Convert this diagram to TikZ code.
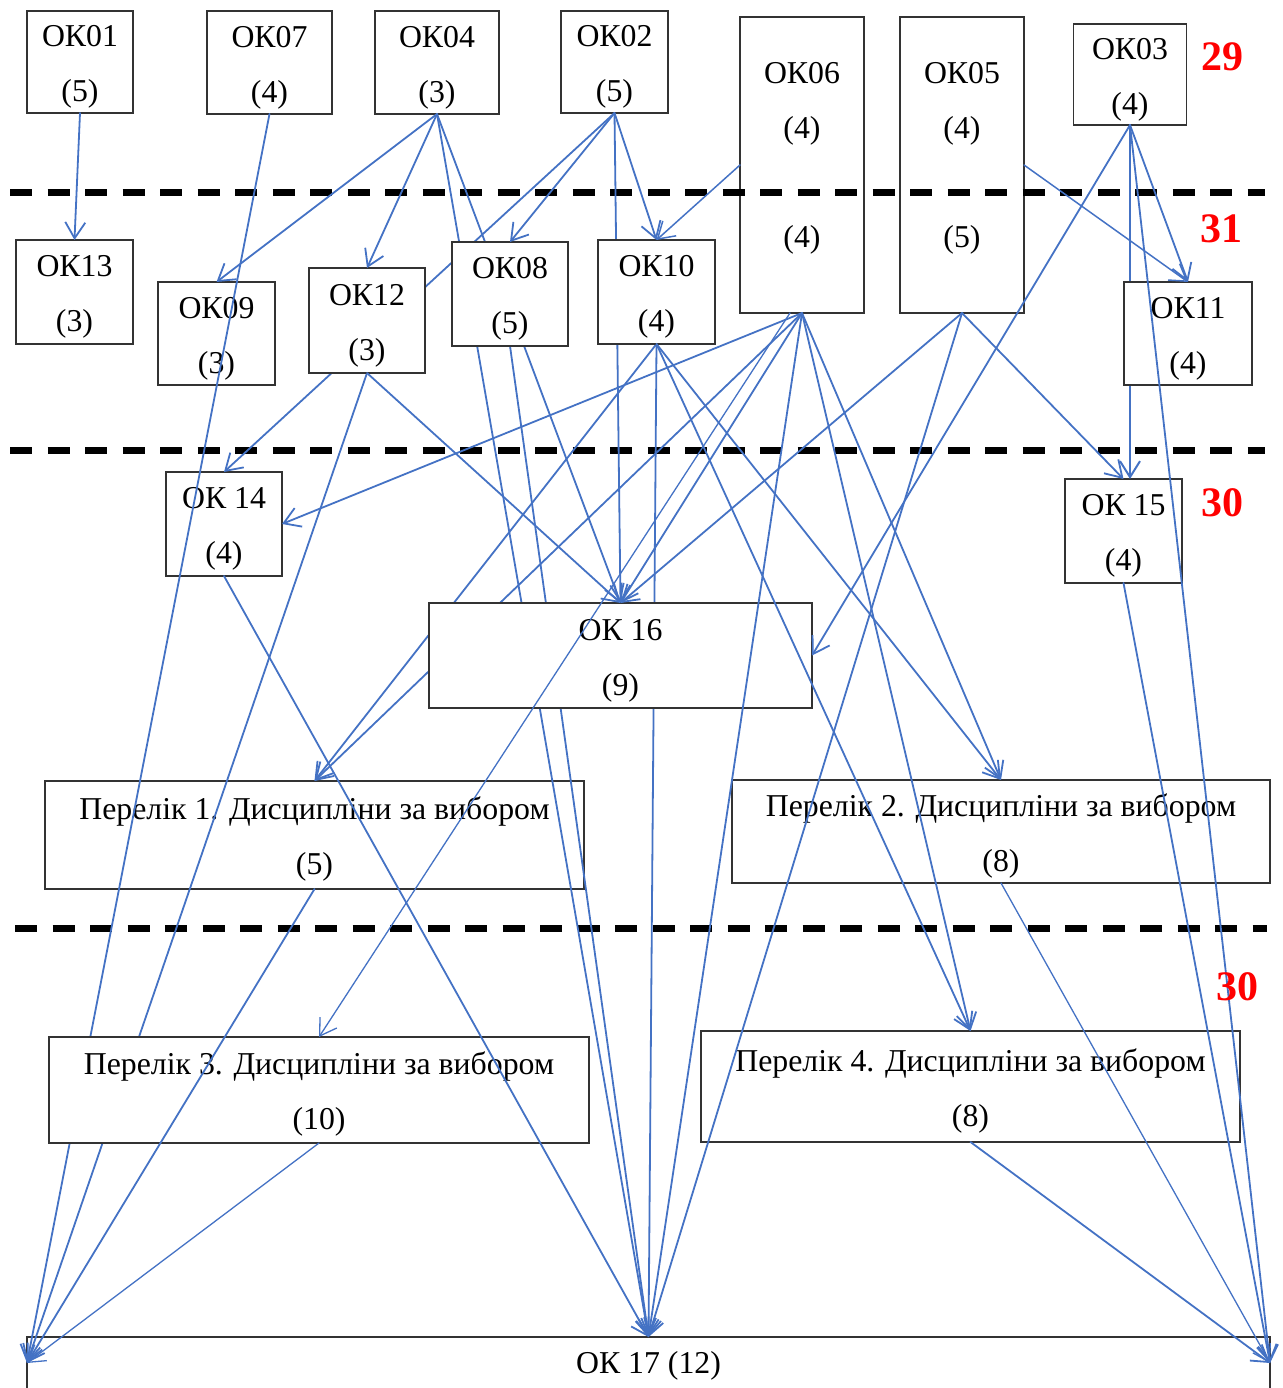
\documentclass[tikz,border=0pt]{standalone}
\usepackage{fontspec}
\setmainfont{Liberation Serif}
\usetikzlibrary{arrows.meta,calc}
\definecolor{lineblue}{RGB}{68,114,196}
\definecolor{numred}{RGB}{255,0,0}
\newcommand\tst{\rule{0pt}{31pt}}
\pgfdeclarelayer{boxesA}
\pgfdeclarelayer{dashes}
\pgfdeclarelayer{hidden}
\pgfdeclarelayer{boxesC}
\pgfdeclarelayer{labels}
\pgfsetlayers{boxesA,dashes,hidden,boxesC,main,labels}
\begin{document}
\begin{tikzpicture}[x=1pt,y=-1pt,
  box/.style={draw=black!80, line width=1.2pt, fill=white, align=center, inner sep=0pt, outer sep=0pt, font=\fontsize{31.8}{55}\selectfont},
  link/.style={draw=lineblue, line width=1.8pt, line cap=round},
  arr/.style={link, -{Straight Barb[length=16pt,width=20pt]}},
  slim/.style={line width=1.3pt},
  mid/.style={line width=1.5pt},
  dline/.style={draw=black, line width=7pt, dash pattern=on 22pt off 15.5pt},
  num/.style={text=numred, font=\fontsize{42}{42}\selectfont\bfseries, inner sep=0pt},
]
\useasboundingbox (0,0) rectangle (1282,1388);

% ---------- boxes that lines cross visibly ----------
\begin{pgfonlayer}{boxesA}
\node[box,minimum width=106pt,minimum height=102pt] (OK01) at (80,62) {\tst ОК01\\(5)};
\node[box,minimum width=125pt,minimum height=103pt] (OK07) at (269.5,62.5) {\tst ОК07\\(4)};
\node[box,minimum width=124pt,minimum height=103pt] (OK04) at (437,62.5) {\tst ОК04\\(3)};
\node[box,minimum width=107pt,minimum height=102pt] (OK02) at (614.5,62) {\tst ОК02\\(5)};
\node[box,minimum width=124pt,minimum height=296pt] (OK06) at (802,165) {ОК06\\(4)\\[54pt](4)\rule[-20pt]{0pt}{0pt}};
\node[box,minimum width=124pt,minimum height=296pt] (OK05) at (962,165) {ОК05\\(4)\\[54pt](5)\rule[-20pt]{0pt}{0pt}};
\node[box,minimum width=113pt,minimum height=101pt] (OK03) at (1130,74.5) {\tst ОК03\\(4)};
\node[box,minimum width=117pt,minimum height=104pt] (OK13) at (74.5,292) {\tst ОК13\\(3)};
\node[box,minimum width=117pt,minimum height=103pt] (OK09) at (216.5,333.5) {\tst ОК09\\(3)};
\node[box,minimum width=116pt,minimum height=104pt] (OK14) at (224,524) {\tst ОК 14\\(4)};
\node[box,minimum width=117pt,minimum height=104pt] (OK15) at (1123.5,531) {\tst ОК 15\\(4)};
\node[box,minimum width=539pt,minimum height=108pt] (P1) at (314.5,835) {\tst Перелік 1. Дисципліни за вибором\\(5)};
\node[box,minimum width=538pt,minimum height=103pt] (P2) at (1001,831.5) {\tst Перелік 2. Дисципліни за вибором\\(8)};
\node[box,minimum width=539pt,minimum height=111pt] (P4) at (970.5,1086.5) {\tst Перелік 4. Дисципліни за вибором\\(8)};
\node[box,draw=none,fill=none,minimum width=1243pt,minimum height=52pt] (OK17) at (648.5,1363) {\rule{0pt}{27pt}ОК 17 (12)};
\draw[black!80,line width=1.2pt] (OK17.south west) -- (OK17.north west) -- (OK17.north east) -- (OK17.south east);
\end{pgfonlayer}

% ---------- boxes that hide the lines behind them ----------
\begin{pgfonlayer}{boxesC}
\node[box,minimum width=116pt,minimum height=105pt] (OK12) at (367,320.5) {\tst ОК12\\(3)};
\node[box,minimum width=116pt,minimum height=104pt] (OK08) at (510,294) {\tst ОК08\\(5)};
\node[box,minimum width=117pt,minimum height=104pt] (OK10) at (656.5,292) {\tst ОК10\\(4)};
\node[box,minimum width=128pt,minimum height=103pt] (OK11) at (1188,333.5) {\tst ОК11\\(4)};
\node[box,minimum width=383pt,minimum height=105pt] (OK16) at (620.5,655.5) {\tst ОК 16\\(9)};
\node[box,minimum width=540pt,minimum height=106pt] (P3) at (319,1090) {\tst Перелік 3. Дисципліни за вибором\\(10)};
\end{pgfonlayer}

\coordinate (OK15n) at ($(OK15.north)+(6.5,0)$);
\coordinate (OK06s) at ($(OK06.south)+(-12,0)$);

% ---------- dashed separators ----------
\begin{pgfonlayer}{dashes}
\draw[dline] (10,193) -- (1265,193);
\draw[dline] (10,450) -- (1265,450);
\draw[dline] (15,928) -- (1267,928);
\end{pgfonlayer}

% ---------- lines that pass behind boxes ----------
\begin{pgfonlayer}{hidden}
\draw[arr] (OK07.south) -- (OK17.west);
\draw[arr] (OK12.south) -- (OK17.west);
\draw[arr] (OK04.south) -- (OK17.north);
\draw[arr] (OK04.south) -- (OK16.north);
\draw[arr] (OK08.south) -- (OK17.north);
\draw[arr] (OK02.south) -- (OK14.north);
\draw[arr] (OK02.south) -- (OK16.north);
\draw[arr,line width=2pt] (OK03.south) -- (OK15n);
\draw[arr] (OK10.south) -- (OK17.north);
\draw[arr] (OK10.south) -- (P1.north);
\draw[arr] (OK06.south) -- (P1.north);
\end{pgfonlayer}

% ---------- lines drawn over boxes ----------
\draw[arr] (OK01.south) -- (OK13.north);
\draw[arr] (OK04.south) -- (OK09.north);
\draw[arr] (OK04.south) -- (OK12.north);
\draw[arr] (OK02.south) -- (OK08.north);
\draw[arr] (OK02.south) -- (OK10.north);
\draw[arr,mid] (OK06.west) -- (OK10.north);
\draw[arr,mid] (OK05.east) -- (OK11.north);
\draw[arr] (OK03.south) -- (OK11.north);
\draw[arr] (OK03.south) -- (OK16.east);
\draw[arr] (OK03.south) -- (OK17.east);
\draw[arr] (OK12.south) -- (OK16.north);
\draw[arr] (OK06.south) -- (OK14.east);
\draw[arr] (OK06.south) -- (OK16.north);
\draw[arr,slim] (OK06s) -- (P3.north);
\draw[arr] (OK06.south) -- (OK17.north);
\draw[arr] (OK06.south) -- (P2.north);
\draw[arr] (OK06.south) -- (P4.north);
\draw[arr] (OK05.south) -- (OK16.north);
\draw[arr] (OK05.south) -- (OK17.north);
\draw[arr] (OK05.south) -- (OK15.north);
\draw[arr] (OK10.south) -- (P2.north);
\draw[arr] (OK10.south) -- (P4.north);
\draw[arr] (OK14.south) -- (OK17.north);
\draw[arr] (OK15.south) -- (OK17.east);
\draw[arr] (P1.south) -- (OK17.west);
\draw[arr,slim] (P2.south) -- (OK17.east);
\draw[arr,slim] (P3.south) -- (OK17.west);
\draw[arr] (P4.south) -- (OK17.east);

% ---------- red totals ----------
\begin{pgfonlayer}{labels}
\node[num] (n29) at (1222,57) {29};
\node[num] (n31) at (1221,229) {31};
\node[num] (n30a) at (1222,503) {30};
\node[num] (n30b) at (1237,987) {30};
\end{pgfonlayer}
\end{tikzpicture}
\end{document}
